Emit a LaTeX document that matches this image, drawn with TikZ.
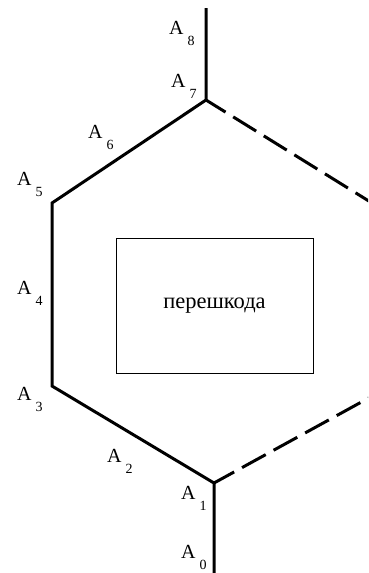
\documentclass[tikz,border=0pt]{standalone}
\usepackage{fontspec}
\setmainfont{Liberation Serif}
\usepackage{tikz}
\usepackage{xcolor}

\newcommand{\ptlbl}[1]{A\kern4pt\raisebox{-11pt}{\fontsize{14}{14}\selectfont #1}}

\begin{document}
\begin{tikzpicture}[x=1pt, y=-1pt, >=latex]
    \useasboundingbox (0,0) rectangle (368,573);
    \tikzset{
        path/.style={line width=3pt},
        gap/.style={line width=3pt, dash pattern=on 27pt off 9pt, dash phase=4pt},
        lbl/.style={anchor=base west, inner sep=0pt, font=\fontsize{20}{20}\selectfont}
    }
    % vertices
    \coordinate (a8) at (206,8);
    \coordinate (a7) at (206,100);
    \coordinate (a5) at (52,203);
    \coordinate (a3) at (52,386);
    \coordinate (a1) at (214,483);
    \coordinate (a0) at (214,573);
    \coordinate (rt) at (372,203);
    \coordinate (rb) at (376,394);
    % obstacle
    \node[draw, line width=0.8pt, minimum width=197, minimum height=135,
          font=\fontsize{22.5}{22.5}\selectfont] (obst) at (214.5,305.5) {перешкода};
    % path round the obstacle
    \draw[path] (a8) -- (a7) -- (a5) -- (a3) -- (a1) -- (a0);
    \begin{scope}
        \clip (0,0) rectangle (368,573);
        \draw[gap] (a7) -- (rt);
        \draw[gap] (a1) -- (rb);
    \end{scope}
    % labels
    \node[lbl] (l8) at (169,34) {\ptlbl{8}};
    \node[lbl] (l7) at (171,87) {\ptlbl{7}};
    \node[lbl] (l6) at (88,138) {\ptlbl{6}};
    \node[lbl] (l5) at (17,185) {\ptlbl{5}};
    \node[lbl] (l4) at (17,294) {\ptlbl{4}};
    \node[lbl] (l3) at (17,400) {\ptlbl{3}};
    \node[lbl] (l2) at (107,462) {\ptlbl{2}};
    \node[lbl] (l1) at (181,499) {\ptlbl{1}};
    \node[lbl] (l0) at (181,558) {\ptlbl{0}};
\end{tikzpicture}
\end{document}
